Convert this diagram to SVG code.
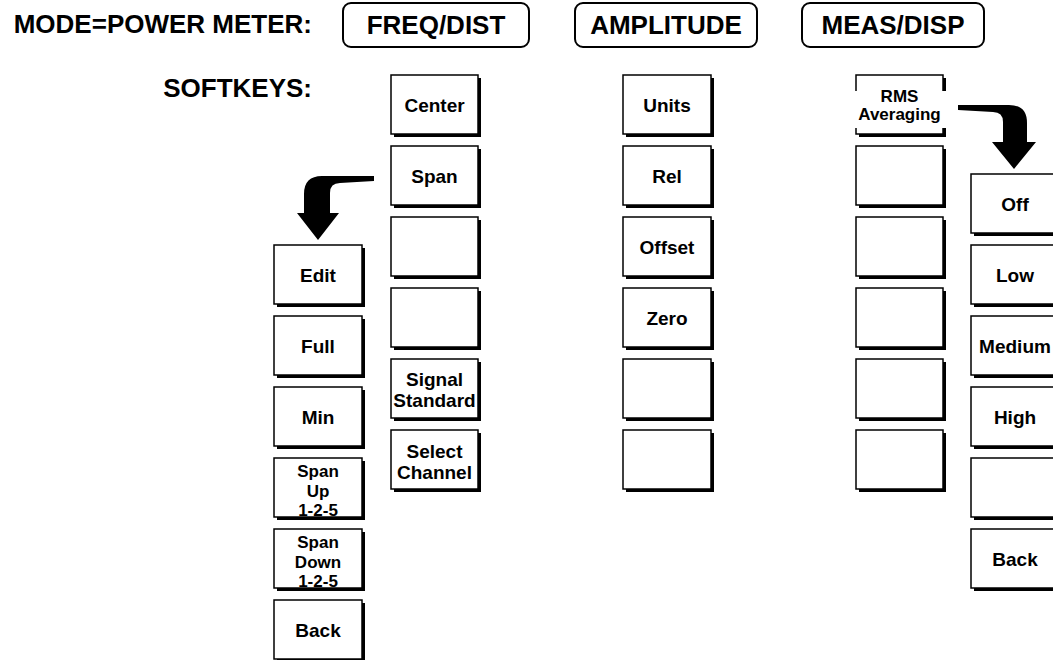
<svg xmlns="http://www.w3.org/2000/svg" width="1053" height="660" viewBox="0 0 1053 660">
<style>
text{font-family:"Liberation Sans",Arial,sans-serif;font-weight:bold;fill:#000}
.lbl{font-size:26px;text-anchor:end}
.ht{font-size:26px;text-anchor:middle}
.hb{fill:#fff;stroke:#000;stroke-width:2}
.sh{fill:#000}
.bx{fill:#fff;stroke:#000;stroke-width:1.5}
.k{font-size:19px;text-anchor:middle}
.s{font-size:17px;text-anchor:middle}
.arr{fill:#000}
</style>
<rect width="1053" height="660" fill="#fff"/>
<text class="lbl" x="312" y="33">MODE=POWER METER:</text>
<text class="lbl" x="312" y="97">SOFTKEYS:</text>

<g id="hdr-freq"><rect class="hb" x="343" y="3" width="186" height="44" rx="8"/><text class="ht" x="436" y="34">FREQ/DIST</text></g>
<g id="hdr-amp"><rect class="hb" x="575" y="3" width="182" height="44" rx="8"/><text class="ht" x="666" y="34">AMPLITUDE</text></g>
<g id="hdr-meas"><rect class="hb" x="802" y="3" width="182" height="44" rx="8"/><text class="ht" x="893" y="34">MEAS/DISP</text></g>

<!-- FREQ/DIST column -->
<g id="f-center"><rect class="sh" x="394" y="78" width="87" height="59"/><rect class="bx" x="391" y="75" width="87" height="59"/><text class="k" x="434.5" y="112">Center</text></g>
<g id="f-span"><rect class="sh" x="394" y="149" width="87" height="59"/><rect class="bx" x="391" y="146" width="87" height="59"/><text class="k" x="434.5" y="183">Span</text></g>
<g id="f-e1"><rect class="sh" x="394" y="220" width="87" height="59"/><rect class="bx" x="391" y="217" width="87" height="59"/></g>
<g id="f-e2"><rect class="sh" x="394" y="291" width="87" height="59"/><rect class="bx" x="391" y="288" width="87" height="59"/></g>
<g id="f-signal"><rect class="sh" x="394" y="362" width="87" height="59"/><rect class="bx" x="391" y="359" width="87" height="59"/><text class="k" x="434.5" y="386">Signal</text><text class="k" x="434.5" y="407">Standard</text></g>
<g id="f-select"><rect class="sh" x="394" y="433" width="87" height="59"/><rect class="bx" x="391" y="430" width="87" height="59"/><text class="k" x="434.5" y="458">Select</text><text class="k" x="434.5" y="479">Channel</text></g>

<!-- Span submenu -->
<g id="s-edit"><rect class="sh" x="277" y="248" width="88" height="59"/><rect class="bx" x="274" y="245" width="88" height="59"/><text class="k" x="318" y="282">Edit</text></g>
<g id="s-full"><rect class="sh" x="277" y="319" width="88" height="59"/><rect class="bx" x="274" y="316" width="88" height="59"/><text class="k" x="318" y="353">Full</text></g>
<g id="s-min"><rect class="sh" x="277" y="390" width="88" height="59"/><rect class="bx" x="274" y="387" width="88" height="59"/><text class="k" x="318" y="424">Min</text></g>
<g id="s-up"><rect class="sh" x="277" y="461" width="88" height="59"/><rect class="bx" x="274" y="458" width="88" height="59"/><text class="s" x="318" y="477">Span</text><text class="s" x="318" y="497">Up</text><text class="s" x="318" y="516">1-2-5</text></g>
<g id="s-down"><rect class="sh" x="277" y="532" width="88" height="59"/><rect class="bx" x="274" y="529" width="88" height="59"/><text class="s" x="318" y="548">Span</text><text class="s" x="318" y="568">Down</text><text class="s" x="318" y="587">1-2-5</text></g>
<g id="s-back"><rect class="sh" x="277" y="603" width="88" height="59"/><rect class="bx" x="274" y="600" width="88" height="59"/><text class="k" x="318" y="637">Back</text></g>

<!-- AMPLITUDE column -->
<g id="a-units"><rect class="sh" x="626" y="78" width="88" height="59"/><rect class="bx" x="623" y="75" width="88" height="59"/><text class="k" x="667" y="112">Units</text></g>
<g id="a-rel"><rect class="sh" x="626" y="149" width="88" height="59"/><rect class="bx" x="623" y="146" width="88" height="59"/><text class="k" x="667" y="183">Rel</text></g>
<g id="a-offset"><rect class="sh" x="626" y="220" width="88" height="59"/><rect class="bx" x="623" y="217" width="88" height="59"/><text class="k" x="667" y="254">Offset</text></g>
<g id="a-zero"><rect class="sh" x="626" y="291" width="88" height="59"/><rect class="bx" x="623" y="288" width="88" height="59"/><text class="k" x="667" y="325">Zero</text></g>
<g id="a-e1"><rect class="sh" x="626" y="362" width="88" height="59"/><rect class="bx" x="623" y="359" width="88" height="59"/></g>
<g id="a-e2"><rect class="sh" x="626" y="433" width="88" height="59"/><rect class="bx" x="623" y="430" width="88" height="59"/></g>

<!-- MEAS/DISP column -->
<g id="m-rms"><rect class="sh" x="859" y="78" width="87" height="59"/><rect class="bx" x="856" y="75" width="87" height="59"/><rect x="852" y="91" width="96" height="37" fill="#fff"/><text class="s" x="899.5" y="102">RMS</text><text class="s" x="899.5" y="120">Averaging</text></g>
<g id="m-e1"><rect class="sh" x="859" y="149" width="87" height="59"/><rect class="bx" x="856" y="146" width="87" height="59"/></g>
<g id="m-e2"><rect class="sh" x="859" y="220" width="87" height="59"/><rect class="bx" x="856" y="217" width="87" height="59"/></g>
<g id="m-e3"><rect class="sh" x="859" y="291" width="87" height="59"/><rect class="bx" x="856" y="288" width="87" height="59"/></g>
<g id="m-e4"><rect class="sh" x="859" y="362" width="87" height="59"/><rect class="bx" x="856" y="359" width="87" height="59"/></g>
<g id="m-e5"><rect class="sh" x="859" y="433" width="87" height="59"/><rect class="bx" x="856" y="430" width="87" height="59"/></g>

<!-- RMS Averaging submenu -->
<g id="r-off"><rect class="sh" x="974" y="177" width="88" height="59"/><rect class="bx" x="971" y="174" width="88" height="59"/><text class="k" x="1015" y="211">Off</text></g>
<g id="r-low"><rect class="sh" x="974" y="248" width="88" height="59"/><rect class="bx" x="971" y="245" width="88" height="59"/><text class="k" x="1015" y="282">Low</text></g>
<g id="r-medium"><rect class="sh" x="974" y="319" width="88" height="59"/><rect class="bx" x="971" y="316" width="88" height="59"/><text class="k" x="1015" y="353">Medium</text></g>
<g id="r-high"><rect class="sh" x="974" y="390" width="88" height="59"/><rect class="bx" x="971" y="387" width="88" height="59"/><text class="k" x="1015" y="424">High</text></g>
<g id="r-e1"><rect class="sh" x="974" y="461" width="88" height="59"/><rect class="bx" x="971" y="458" width="88" height="59"/></g>
<g id="r-back"><rect class="sh" x="974" y="532" width="88" height="59"/><rect class="bx" x="971" y="529" width="88" height="59"/><text class="k" x="1015" y="566">Back</text></g>

<!-- connectors -->
<g id="connectors">
<path class="arr" d="M 374 176 L 322 176 Q 304 176 304 194 L 304 213 L 297 213 L 318 240 L 339 213 L 330 213 L 330 193 Q 330 183 340 183 L 374 181 Z"/>
<path class="arr" d="M 958 105 L 1009 105 Q 1027 105 1027 123 L 1027 142 L 1036 142 L 1014 169 L 992 142 L 1003 142 L 1003 122 Q 1003 112 993 112 L 958 110 Z"/>
</g>
</svg>
